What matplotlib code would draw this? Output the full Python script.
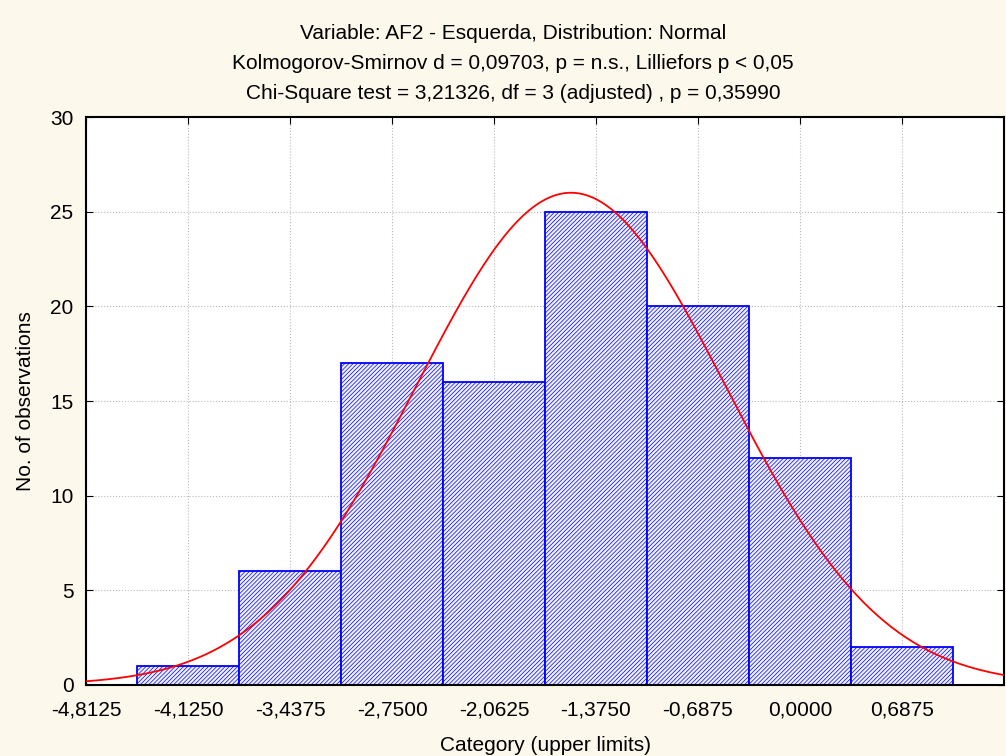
import matplotlib.pyplot as plt
import numpy as np

plt.rcParams['font.family'] = ['Liberation Sans', 'DejaVu Sans']
plt.rcParams['hatch.linewidth'] = 0.5

# bin centres (upper limits labelled on axis) and counts
centers = [-4.125, -3.4375, -2.75, -2.0625, -1.375, -0.6875, 0.0, 0.6875]
counts = [1, 6, 17, 16, 25, 20, 12, 2]
tick_vals = [-4.8125, -4.125, -3.4375, -2.75, -2.0625, -1.375, -0.6875, 0.0, 0.6875]
width = 0.6875

# fitted normal
mu = -1.544
sigma = 1.044
n_obs = sum(counts)

fig = plt.figure(figsize=(10.06, 7.56), dpi=100, facecolor='#fdf8ec')
ax = fig.add_axes([0.0855, 0.094, 0.9125, 0.751])
ax.set_facecolor('white')

ax.bar(centers, counts, width=width, facecolor='#eef0ff', edgecolor='blue',
       linewidth=1.3, hatch='////////', zorder=2)

xs = np.linspace(-4.8125, 1.375, 400)
ys = n_obs * width / (sigma * np.sqrt(2 * np.pi)) * np.exp(-0.5 * ((xs - mu) / sigma) ** 2)
ax.plot(xs, ys, color='red', linewidth=1.3, zorder=3)

ax.set_xlim(-4.8125, 1.375)
ax.set_ylim(0, 30)
ax.set_xticks(tick_vals)
ax.set_xticklabels([f"{v:.4f}".replace('.', ',') for v in tick_vals])
ax.set_yticks(range(0, 31, 5))
ax.grid(True, color='#bbbbbb', linestyle=':', linewidth=0.8, zorder=0)
ax.set_axisbelow(True)
ax.tick_params(direction='in', top=True, right=True, length=5, labelsize=15)
ax.tick_params(axis='x', pad=11)
ax.tick_params(axis='y', pad=9)
for s in ax.spines.values():
    s.set_linewidth(1.5)

ax.set_xlabel("Category (upper limits)", fontsize=15, labelpad=12)
ax.set_ylabel("No. of observations", fontsize=15, labelpad=11)
ax.set_title("Variable: AF2 - Esquerda, Distribution: Normal\n"
             "Kolmogorov-Smirnov d = 0,09703, p = n.s., Lilliefors p < 0,05\n"
             "Chi-Square test = 3,21326, df = 3 (adjusted) , p = 0,35990",
             fontsize=15, linespacing=1.75, pad=13, x=0.465)

fig.savefig("out.png", dpi=100, facecolor=fig.get_facecolor())
